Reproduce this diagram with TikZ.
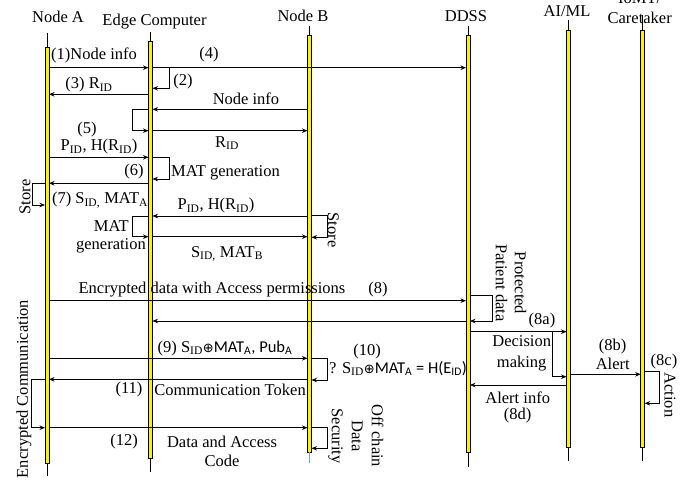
\documentclass[tikz,border=0pt]{standalone}
\usepackage{fontspec}
\setmainfont{Liberation Serif}
\newfontfamily\calfont{Carlito}
\newfontfamily\djfont{DejaVu Sans}
\usetikzlibrary{arrows.meta}
\newcommand{\oplusg}{{\djfont\fontsize{13}{13}\selectfont ⊕}}
\begin{document}
\begin{tikzpicture}[x=1pt,y=-1pt,
  bar/.style={draw=black, line width=0.9pt, fill=yellow, minimum width=4pt, inner sep=0pt, outer sep=0pt, rectangle},
  msg/.style={line width=0.8pt, -{Stealth[length=5.5pt,width=4.5pt]}},
  lf/.style={line width=0.6pt},
  lbl/.style={inner sep=0pt, font=\fontsize{16.5}{19}\selectfont},
  ttl/.style={inner sep=0pt, font=\fontsize{16.5}{19}\selectfont}]
\useasboundingbox (0,0) rectangle (697,485);
% titles
\node[ttl] (tA) at (58,17) {Node A};
\node[ttl] (tE) at (154.5,22) {Edge Computer};
\node[ttl] (tB) at (303,16) {Node B};
\node[ttl] (tD) at (466,16) {DDSS};
\node[ttl] (tM) at (567,11) {AI/ML};
\node[ttl] (tC0) at (639.7,-2) {IoMT/};
\node[ttl] (tC) at (639.7,17.5) {Caretaker};
% lifelines
\node[bar, minimum height=416pt] (A) at (47,255) {};
\node[bar, minimum height=417pt] (E) at (150.5,249.5) {};
\node[bar, minimum height=417pt] (B) at (309.5,243.5) {};
\node[bar, minimum height=417pt] (D) at (468,243.5) {};
\node[bar, minimum height=417pt] (M) at (568.5,238.5) {};
\node[bar, minimum height=417pt] (C) at (642.7,238.5) {};
\draw[lf] (A.north) -- ++(0,-14);
\draw[lf] (E.north) -- ++(0,-9);
\draw[lf] (B.north) -- ++(0,-9);
\draw[lf] (D.north) -- ++(0,-9);
\draw[lf] (M.north) -- ++(0,-10);
\draw[lf] (C.north) -- ++(0,-15);
\draw[lf] (A.south) -- ++(0,13);
\draw[lf] (E.south) -- ++(0,14);
\draw[lf, draw={rgb,255:red,120;green,160;blue,220}] (B.south) -- ++(0,11);
\draw[lf] (D.south) -- ++(0,15);
\draw[lf] (M.south) -- ++(0,14);
\draw[lf] (C.south) -- ++(0,14);
% messages
\draw[msg] (A.east |- 0,67.7) -- (E.west |- 0,67.7);
\draw[msg] (E.east |- 0,67.7) -- (D.west |- 0,67.7);
\draw[msg] (E.east |- 0,67.7) -| (169,88.3) -- (E.east |- 0,88.3);
\draw[msg] (E.west |- 0,94.3) -- (A.east |- 0,94.3);
\draw[msg] (B.west |- 0,109.3) -- (E.east |- 0,109.3);
\draw[msg] (E.west |- 0,109.3) -| (132.3,130.7) -- (E.west |- 0,130.7);
\draw[msg] (E.east |- 0,130.7) -- (B.west |- 0,130.7);
\draw[msg] (A.east |- 0,157.3) -- (E.west |- 0,157.3);
\draw[msg] (E.east |- 0,157.3) -| (169,179) -- (E.east |- 0,179);
\draw[msg] (E.west |- 0,183.3) -- (A.east |- 0,183.3);
\draw[msg] (A.west |- 0,183.3) -| (32.3,205) -- (A.west |- 0,205);
\draw[msg] (B.west |- 0,216) -- (E.east |- 0,216);
\draw[msg] (E.west |- 0,216) -| (132.3,236.7) -- (E.west |- 0,236.7);
\draw[msg] (E.east |- 0,236.7) -- (B.west |- 0,236.7);
\draw[msg] (B.east |- 0,215.7) -| (327.3,237.3) -- (B.east |- 0,237.3);
\draw[msg] (A.east |- 0,300.7) -- (D.west |- 0,300.7);
\draw[msg] (D.east |- 0,295) -| (492.3,321) -- (D.east |- 0,321);
\draw[msg] (D.west |- 0,321) -- (E.east |- 0,321);
\draw[msg] (D.east |- 0,331.7) -- (M.west |- 0,331.7);
\draw[msg] (M.west |- 0,331.7) -| (552.7,376.7) -- (M.west |- 0,376.7);
\draw[msg] (M.east |- 0,374.3) -- (C.west |- 0,374.3);
\draw[msg] (C.east |- 0,371) -| (659.3,403.3) -- (C.east |- 0,403.3);
\draw[msg] (M.west |- 0,385) -- (D.east |- 0,385);
\draw[msg] (A.east |- 0,358.3) -- (B.west |- 0,358.3);
\draw[msg] (B.east |- 0,358.3) -| (327.3,380) -- (B.east |- 0,380);
\draw[msg] (B.west |- 0,379.3) -- (A.east |- 0,379.3);
\draw[msg] (A.west |- 0,379.3) -| (31.7,427.7) -- (A.west |- 0,427.7);
\draw[msg] (A.east |- 0,427.7) -- (B.west |- 0,427.7);
\draw[msg] (B.east |- 0,427.3) -| (327.3,448.3) -- (B.east |- 0,448.3);
% labels
\node[lbl] (l1) at (94,55) {(1)Node info};
\node[lbl] (l4) at (209,55) {(4)};
\node[lbl] (l2) at (183,81.7) {(2)};
\node[lbl] (l3) at (89,85) {(3) R\textsubscript{ID}};
\node[lbl] (lni) at (246,99) {Node info};
\node[lbl] (lrid) at (227,143) {R\textsubscript{ID}};
\node[lbl] (l5) at (87,130) {(5)};
\node[lbl] (l5b) at (99,146.7) {P\textsubscript{ID}, H(R\textsubscript{ID})};
\node[lbl, anchor=west] (lmat) at (171,172.7) {MAT generation};
\node[lbl] (l6) at (134,171.7) {(6)};
\node[lbl] (l7) at (100,200) {(7) S\textsubscript{ID,} MAT\textsubscript{A}};
\node[lbl, rotate=90] (lst1) at (25,197) {Store};
\node[lbl] (lpb) at (216,205.7) {P\textsubscript{ID}, H(R\textsubscript{ID})};
\node[lbl, anchor=east] (lmat2) at (129,226) {MAT};
\node[lbl, anchor=east] (lgen2) at (146,246) {generation};
\node[lbl] (lsb) at (227,254) {S\textsubscript{ID,} MAT\textsubscript{B}};
\node[lbl, rotate=-90] (lst2) at (333.3,230) {Store};
\node[lbl] (l8t) at (212,289.3) {Encrypted data with Access permissions};
\node[lbl] (l8) at (378,289.3) {(8)};
\node[lbl, rotate=-90, align=center] (lpp) at (511,283) {Protected\\Patient data};
\node[lbl] (l8a) at (542,321) {(8a)};
\node[lbl, align=center] (ldm) at (521.7,353) {Decision\\[2pt]making};
\node[lbl, align=center] (l8b) at (612.7,354) {(8b)\\Alert};
\node[lbl] (l8c) at (664,361.7) {(8c)};
\node[lbl, rotate=-90] (lact) at (670,395) {Action};
\node[lbl, align=center] (l8d) at (517.7,407) {Alert info\\[-3pt](8d)};
\node[lbl] (l9) at (225,348.3) {(9) S\textsubscript{ID}\oplusg{\calfont MAT\textsubscript{A}, Pub\textsubscript{A}}};
\node[lbl] (l10) at (367,351.7) {(10)};
\node[lbl, anchor=west] (l10b) at (329,368.3) {? S\textsubscript{ID}\oplusg{\calfont MAT\textsubscript{A} = H(E\textsubscript{ID})}};
\node[lbl] (l11) at (129,390) {(11)};
\node[lbl] (l11b) at (230,390) {Communication Token};
\node[lbl, rotate=90] (lenc) at (24,389) {Encrypted Communication};
\node[lbl] (l12) at (124,441.7) {(12)};
\node[lbl, align=center] (l12b) at (222,451) {Data and Access\\Code};
\node[lbl, rotate=-90, align=center] (loff) at (356,436) {Off chain\\[1pt]Data\\[1pt]Security};
\end{tikzpicture}
\end{document}
